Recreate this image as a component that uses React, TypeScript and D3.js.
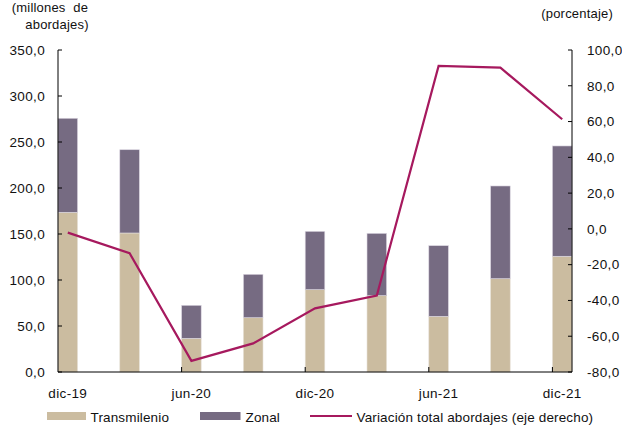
import React from "react";
import * as d3 from "d3";

const categories = ["dic-19", "mar-20", "jun-20", "sep-20", "dic-20", "mar-21", "jun-21", "sep-21", "dic-21"];
const transmilenio = [173.6, 151.1, 36.6, 59.0, 89.5, 83.0, 60.5, 101.4, 125.8];
const zonal = [102.2, 90.5, 35.9, 47.2, 63.4, 67.7, 76.8, 100.8, 119.9];
const variacion = [-2.1, -13.6, -73.8, -64.0, -44.4, -37.3, 91.1, 90.1, 61.3];
const leftTicks = [0, 50, 100, 150, 200, 250, 300, 350];
const rightTicks = [-80, -60, -40, -20, 0, 20, 40, 60, 80, 100];
const xLabelCats = ["dic-19", "jun-20", "dic-20", "jun-21", "dic-21"];

const fmt = (v: number) => v.toFixed(1).replace(".", ",");

export default function App() {
  const W = 622, H = 428;
  const left = 58, right = 572, top = 50, bottom = 372;
  const x = d3.scaleBand<string>().domain(categories).range([left, right]).paddingInner(0.683).paddingOuter(0);
  const yL = d3.scaleLinear().domain([0, 350]).range([bottom, top]);
  const yR = d3.scaleLinear().domain([-80, 100]).range([bottom, top]);
  const bw = x.bandwidth();
  const font = "'Liberation Sans', Arial, sans-serif";
  const line = d3.line<number>().x((_, i) => (x(categories[i]) as number) + bw / 2).y((d) => yR(d));
  const tmColor = "#CBBCA0", zColor = "#766B82", lineColor = "#A6195E";
  const fs = 13.5, ls = 0.35;

  return (
    <svg width={W} height={H} style={{ position: "absolute", left: 0, top: 0 }} fontFamily={font} fill="#111">
      {categories.map((c, i) => (
        <g key={c}>
          <rect x={x(c)} y={yL(transmilenio[i])} width={bw} height={yL(0) - yL(transmilenio[i])} fill={tmColor} stroke="#e6e1d8" strokeWidth={0.6} />
          <rect x={x(c)} y={yL(transmilenio[i] + zonal[i])} width={bw} height={yL(transmilenio[i]) - yL(transmilenio[i] + zonal[i])} fill={zColor} stroke="#ddd8e2" strokeWidth={0.6} />
        </g>
      ))}
      <path d={line(variacion) || ""} fill="none" stroke={lineColor} strokeWidth={2.2} strokeLinejoin="miter" />
      {/* left axis */}
      <line x1={left} x2={left} y1={top} y2={bottom} stroke="#000" strokeWidth={1} />
      {leftTicks.map((t) => (
        <g key={t}>
          <line x1={left} x2={left + 4} y1={yL(t)} y2={yL(t)} stroke="#000" />
          <text x={45} y={yL(t) + 4.8} textAnchor="end" fontSize={fs} letterSpacing={ls}>{fmt(t)}</text>
        </g>
      ))}
      {/* right axis */}
      <line x1={right} x2={right} y1={top} y2={bottom} stroke="#000" strokeWidth={1} />
      {rightTicks.map((t) => (
        <g key={t}>
          <line x1={right - 4} x2={right} y1={yR(t)} y2={yR(t)} stroke="#000" />
          <text x={587} y={yR(t) + 4.8} textAnchor="start" fontSize={fs} letterSpacing={ls}>{fmt(t)}</text>
        </g>
      ))}
      {/* x axis */}
      <line x1={left} x2={right} y1={bottom} y2={bottom} stroke="#000" strokeWidth={1} />
      {xLabelCats.map((c, i) => (
        <g key={c}>
          {i > 0 && <line x1={x(c)} x2={x(c)} y1={bottom} y2={bottom - 5} stroke="#000" />}
          <text x={(x(c) as number) + bw / 2} y={398} textAnchor="middle" fontSize={fs} letterSpacing={ls}>{c}</text>
        </g>
      ))}
      {/* axis titles */}
      <text x={50} y={12} textAnchor="middle" fontSize={13} letterSpacing={0.2} wordSpacing={4}>(millones de</text>
      <text x={57} y={29} textAnchor="middle" fontSize={13} letterSpacing={0.2}>abordajes)</text>
      <text x={613} y={18} textAnchor="end" fontSize={13} letterSpacing={0.2}>(porcentaje)</text>
      {/* legend */}
      <rect x={47} y={412} width={39} height={8} fill={tmColor} />
      <text x={90.5} y={421.5} fontSize={fs} letterSpacing={0.15}>Transmilenio</text>
      <rect x={200} y={412} width={40.5} height={8} fill={zColor} />
      <text x={245.5} y={421.5} fontSize={fs} letterSpacing={0.15}>Zonal</text>
      <line x1={310} x2={352} y1={416} y2={416} stroke={lineColor} strokeWidth={2.2} />
      <text x={356.5} y={421.5} fontSize={fs} letterSpacing={0.15}>Variación total abordajes (eje derecho)</text>
    </svg>
  );
}
